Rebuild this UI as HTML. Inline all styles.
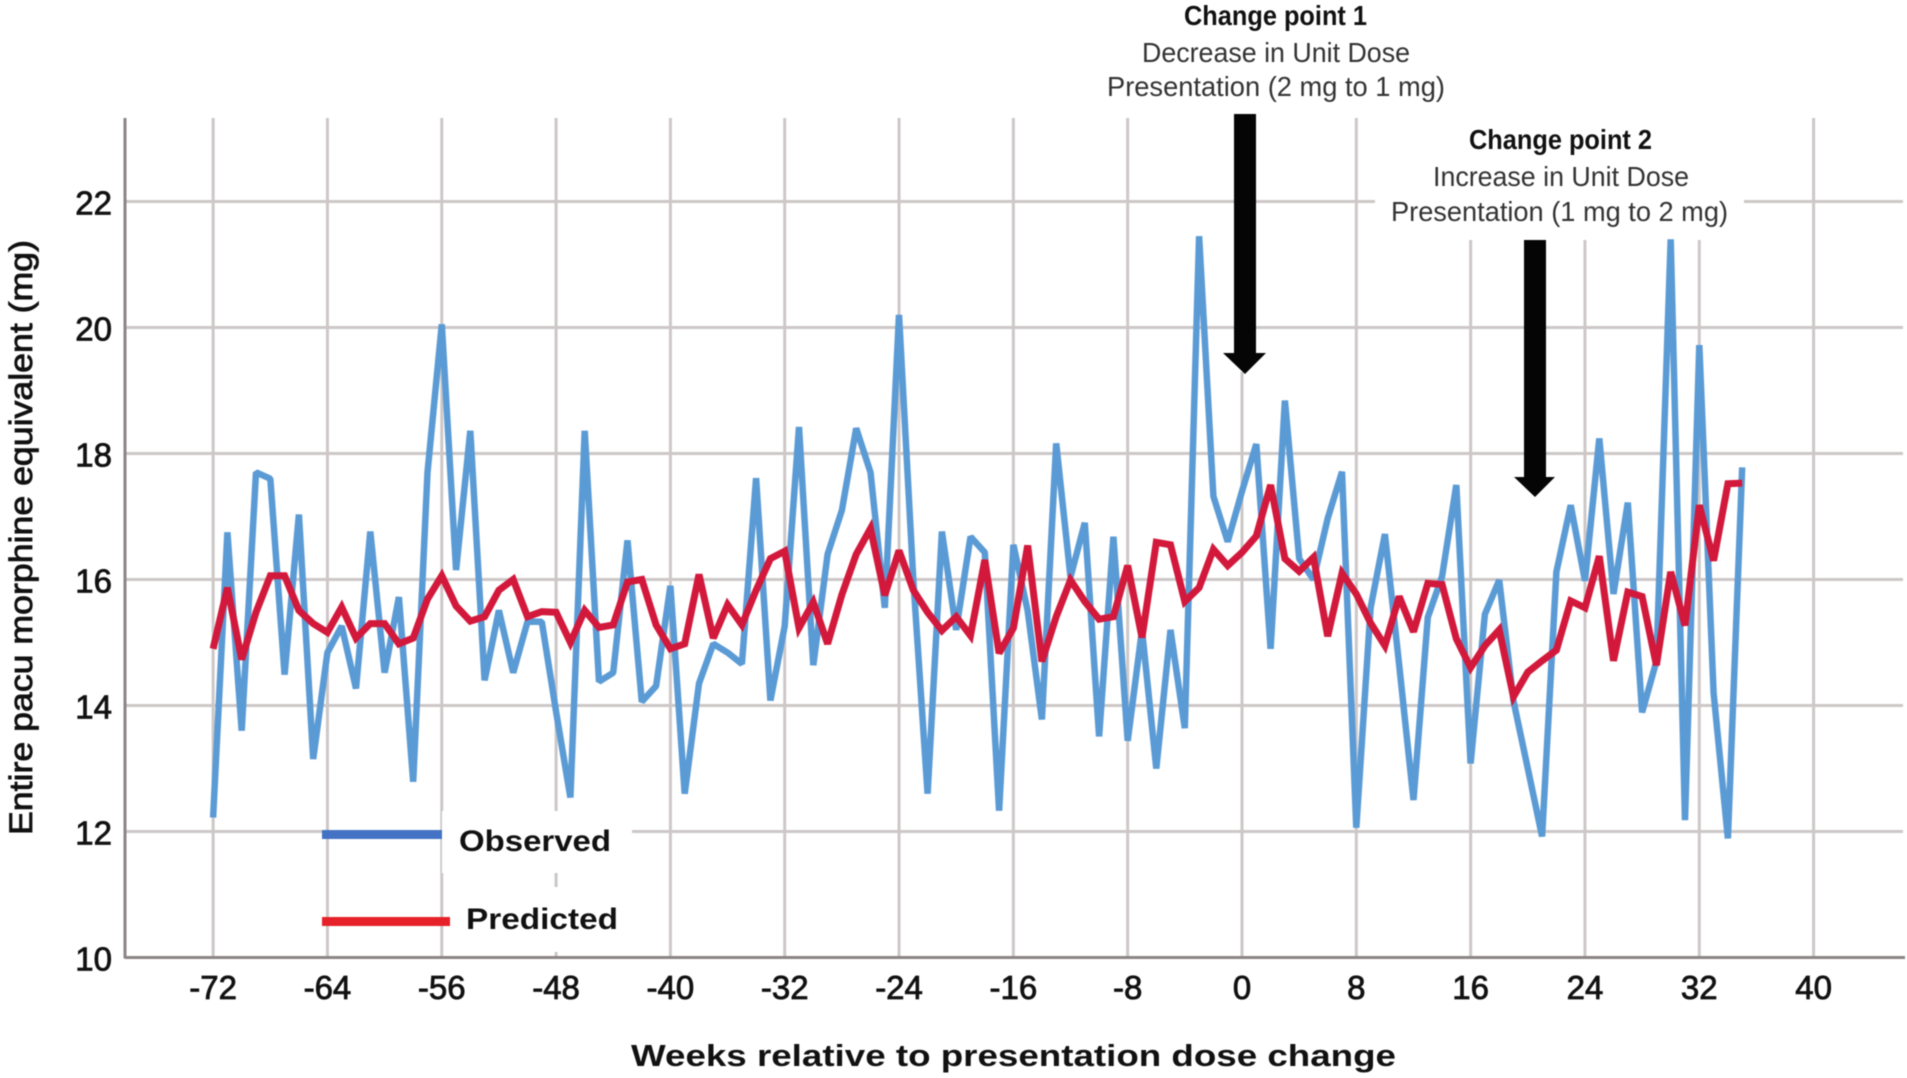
<!DOCTYPE html>
<html lang="en">
<head>
<meta charset="utf-8">
<title>Entire pacu morphine equivalent by week</title>
<style>
html,body{margin:0;padding:0;background:#fff;}
svg{display:block;filter:blur(0.4px);}
text{font-family:"Liberation Sans",sans-serif;}
</style>
</head>
<body>
<svg id="chart" width="1907" height="1078" viewBox="0 0 1907 1078" xmlns="http://www.w3.org/2000/svg">
  <rect x="0" y="0" width="1907" height="1078" fill="#ffffff"/>
  <g id="grid"></g>
  <g fill="#ffffff">
    <rect x="1375" y="130" width="369" height="110"/>
    <rect x="442" y="811" width="190" height="62"/>
    <rect x="450" y="887" width="172" height="65"/>
  </g>
  <g id="axes"></g>
  <g id="series"></g>
  <g fill="#050505">
    <rect x="1234" y="114" width="22" height="240"/>
    <polygon points="1223,353 1266,353 1245,374"/>
  </g>
  <g fill="#050505">
    <rect x="1524" y="240" width="22" height="238"/>
    <polygon points="1514,477 1555,477 1535,497"/>
  </g>
  <g font-size="28" fill="#333333">
    <text x="1184" y="25" textLength="183" lengthAdjust="spacingAndGlyphs" font-weight="700" fill="#111111">Change point 1</text>
    <text x="1142" y="62" textLength="268" lengthAdjust="spacingAndGlyphs">Decrease in Unit Dose</text>
    <text x="1107" y="96" textLength="338" lengthAdjust="spacingAndGlyphs">Presentation (2 mg to 1 mg)</text>
  </g>
  <g font-size="28" fill="#333333">
    <text x="1469" y="149" textLength="183" lengthAdjust="spacingAndGlyphs" font-weight="700" fill="#111111">Change point 2</text>
    <text x="1433" y="186" textLength="256" lengthAdjust="spacingAndGlyphs">Increase in Unit Dose</text>
    <text x="1391" y="221" textLength="337" lengthAdjust="spacingAndGlyphs">Presentation (1 mg to 2 mg)</text>
  </g>
  <g>
    <rect x="322" y="830" width="120" height="9" fill="#4472c4"/>
    <text x="459" y="851" font-size="30" font-weight="700" fill="#111111" textLength="152" lengthAdjust="spacingAndGlyphs">Observed</text>
    <rect x="322" y="917" width="128" height="9" fill="#e62129"/>
    <text x="466" y="929" font-size="30" font-weight="700" fill="#111111" textLength="152" lengthAdjust="spacingAndGlyphs">Predicted</text>
  </g>
  <text transform="translate(32,835) rotate(-90)" font-size="32" fill="#111111" stroke="#111111" stroke-width="0.8" textLength="595" lengthAdjust="spacingAndGlyphs">Entire pacu morphine equivalent (mg)</text>
  <text x="631" y="1066" font-size="31" font-weight="700" fill="#111111" textLength="765" lengthAdjust="spacingAndGlyphs">Weeks relative to presentation dose change</text>
</svg>
<script>
const weeks = [-72,-71,-70,-69,-68,-67,-66,-65,-64,-63,-62,-61,-60,-59,-58,-57,-56,-55,-54,-53,-52,-51,-50,-49,-48,-47,-46,-45,-44,-43,-42,-41,-40,-39,-38,-37,-36,-35,-34,-33,-32,-31,-30,-29,-28,-27,-26,-25,-24,-23,-22,-21,-20,-19,-18,-17,-16,-15,-14,-13,-12,-11,-10,-9,-8,-7,-6,-5,-4,-3,-2,-1,0,1,2,3,4,5,6,7,8,9,10,11,12,13,14,15,16,17,18,19,20,21,22,23,24,25,26,27,28,29,30,31,32,33,34,35];
const observed = [12.22,16.75,13.6,17.7,17.6,14.49,17.03,13.15,14.84,15.26,14.27,16.76,14.52,15.72,12.79,17.7,20.05,16.15,18.36,14.4,15.51,14.52,15.33,15.33,13.9,12.54,18.36,14.38,14.52,16.62,14.06,14.31,15.9,12.6,14.35,14.98,14.84,14.66,17.61,14.08,15.26,18.42,14.64,16.4,17.1,18.4,17.7,15.55,20.2,16.0,12.6,16.76,15.2,16.68,16.43,12.33,16.55,15.5,13.78,18.16,16.04,16.9,13.51,16.68,13.44,15.2,13.0,15.2,13.64,21.45,17.32,16.6,17.4,18.15,14.9,18.84,16.33,16.0,16.97,17.71,12.06,15.55,16.72,14.64,12.5,15.4,16.05,17.5,13.08,15.45,15.99,14.07,13.0,11.92,16.12,17.18,15.98,18.24,15.77,17.22,13.89,14.7,21.4,12.18,19.72,14.2,11.89,17.78];
const predicted = [14.9,15.87,14.73,15.48,16.06,16.06,15.51,15.3,15.16,15.56,15.07,15.3,15.3,14.98,15.07,15.69,16.06,15.58,15.34,15.41,15.83,16.0,15.41,15.49,15.48,15.0,15.51,15.24,15.28,15.96,16.0,15.28,14.9,14.98,16.08,15.07,15.6,15.28,15.83,16.33,16.45,15.23,15.64,14.98,15.76,16.4,16.81,15.75,16.46,15.83,15.48,15.19,15.41,15.11,16.31,14.83,15.23,16.54,14.7,15.41,15.99,15.65,15.37,15.41,16.22,15.08,16.59,16.55,15.65,15.87,16.48,16.22,16.43,16.69,17.5,16.33,16.13,16.35,15.1,16.1,15.77,15.31,14.95,15.73,15.17,15.94,15.92,15.06,14.6,14.95,15.2,14.14,14.53,14.71,14.88,15.66,15.55,16.37,14.71,15.8,15.73,14.64,16.12,15.27,17.18,16.3,17.52,17.53];
const xTickLabels = [-72,-64,-56,-48,-40,-32,-24,-16,-8,0,8,16,24,32,40];
const yTickLabels = [10,12,14,16,18,20,22];
const maskedTopWeeks = [16,24,32];

const NS = 'http://www.w3.org/2000/svg';
const xAxis = function (week) { return 1242 + week * 14.29; };
const yAxis = function (value) { return 957.5 - (value - 10) * 63; };
const plotLeft = 125, plotRight = 1905, gridRight = 1903, plotTop = 118, plotBottom = yAxis(10);

function make(tag, attrs, parent) {
  const el = document.createElementNS(NS, tag);
  Object.keys(attrs).forEach(function (k) { el.setAttribute(k, attrs[k]); });
  parent.appendChild(el);
  return el;
}

const gridGroup = document.getElementById('grid');
const axesGroup = document.getElementById('axes');
const seriesGroup = document.getElementById('series');
const gridColor = '#cdc7c7';

yTickLabels.forEach(function (v) {
  if (v !== 10) {
    const line = make('line', {x1: plotLeft, x2: gridRight, y1: yAxis(v), y2: yAxis(v), stroke: gridColor, 'stroke-width': 3}, gridGroup);
    
    
  }
  const label = make('text', {x: 112, y: yAxis(v) + 13, 'text-anchor': 'end', 'font-size': 33, fill: '#111111', stroke: '#111111', 'stroke-width': 0.8}, axesGroup);
  label.textContent = String(v);
  
  
});

xTickLabels.forEach(function (w) {
  const top = maskedTopWeeks.indexOf(w) >= 0 ? 240 : (w === 0 ? 372 : plotTop);
  const line = make('line', {x1: xAxis(w), x2: xAxis(w), y1: top, y2: plotBottom, stroke: gridColor, 'stroke-width': 3}, gridGroup);
  
  
  const label = make('text', {x: xAxis(w), y: 999, 'text-anchor': 'middle', 'font-size': 33, fill: '#111111', stroke: '#111111', 'stroke-width': 0.8}, axesGroup);
  label.textContent = String(w);
  
  
});

const yAxisLine = make('line', {x1: plotLeft, x2: plotLeft, y1: plotTop, y2: plotBottom + 1, stroke: '#8c8585', 'stroke-width': 3}, axesGroup);


const xAxisLine = make('line', {x1: plotLeft, x2: plotRight, y1: plotBottom, y2: plotBottom, stroke: '#8c8585', 'stroke-width': 3}, axesGroup);



function seriesPoints(values) {
  return values.map(function (v, i) { return xAxis(weeks[i]).toFixed(1) + ',' + yAxis(v).toFixed(1); }).join(' ');
}

const observedLine = make('polyline', {points: seriesPoints(observed), fill: 'none', stroke: '#5b9bd5', 'stroke-width': 6.5, 'stroke-linejoin': 'bevel'}, seriesGroup);


const predictedLine = make('polyline', {points: seriesPoints(predicted), fill: 'none', stroke: '#d2193c', 'stroke-width': 7, 'stroke-linejoin': 'miter', 'stroke-miterlimit': 3}, seriesGroup);


</script>
</body>
</html>
